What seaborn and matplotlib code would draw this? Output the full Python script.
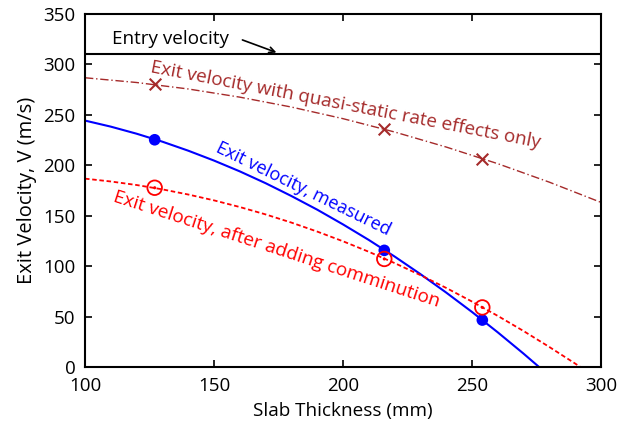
import matplotlib
import matplotlib.pyplot as plt
import seaborn as sns

matplotlib.use('Agg')

# curves (slab thickness in mm, exit velocity in m/s)
measured_x = [100, 110, 120, 130, 140, 150, 160, 170, 180, 190, 200, 210, 220, 230, 240, 250, 260, 270, 276]
measured_v = [244, 238.0, 231.0, 223.1, 214.2, 204.4, 193.7, 182.0, 169.3, 155.8, 141.2, 125.8,
              109.4, 92.0, 73.7, 54.5, 34.3, 13.2, 0]

commin_x = [100, 110, 120, 130, 140, 150, 160, 170, 180, 190, 200, 210, 220, 230, 240, 250, 260, 270, 280, 290, 292]
commin_v = [186.5, 183.7, 180.2, 175.9, 170.8, 165.0, 158.4, 151.1, 143.0, 134.1, 124.5, 114.1,
            102.9, 91.0, 78.3, 64.8, 50.6, 35.6, 19.8, 3.4, 0]

quasi_x = [100, 120, 140, 160, 180, 200, 220, 240, 260, 280, 300]
quasi_v = [286.4, 281.7, 275.3, 267.2, 257.4, 245.9, 232.7, 217.8, 201.3, 183.0, 163.0]

# test points
test_x = [127, 216, 254]
measured_pts = [225, 115.5, 46.5]
commin_pts = [177.5, 107, 59]
quasi_pts = [280, 235.5, 206]

entry_v = 310

sns.set_style('ticks')
plt.rcParams['font.family'] = ['Open Sans', 'DejaVu Sans']
plt.rcParams['text.color'] = 'black'
plt.rcParams['axes.labelcolor'] = 'black'
plt.rcParams['xtick.color'] = 'black'
plt.rcParams['ytick.color'] = 'black'

fig = plt.figure(figsize=(6.21, 4.24), dpi=100)
ax = fig.add_axes([0.1369, 0.1344, 0.8309, 0.8337])

brown = '#A52A2A'

# entry velocity
ax.axhline(entry_v, color='black', lw=1.5)

sns.lineplot(x=quasi_x, y=quasi_v, color=brown, lw=1.0, linestyle=(0, (6, 2, 1, 2)), ax=ax)
sns.lineplot(x=measured_x, y=measured_v, color='blue', lw=1.5, ax=ax)
sns.lineplot(x=commin_x, y=commin_v, color='red', lw=1.3, linestyle=(0, (2.5, 1.5)), ax=ax)

sns.scatterplot(x=test_x, y=quasi_pts, color=brown, marker='x', s=70, linewidth=1.5, ax=ax, zorder=5)
sns.scatterplot(x=test_x, y=measured_pts, color='blue', marker='o', s=70, edgecolor='none', ax=ax, zorder=5)
sns.scatterplot(x=test_x, y=commin_pts, facecolor='none', edgecolor='red', marker='o', s=110,
                linewidth=1.3, ax=ax, zorder=5)
sns.scatterplot(x=test_x, y=commin_pts, color='red', marker='o', s=5, edgecolor='none', ax=ax, zorder=5)

# labels along the curves
txt = dict(ha='left', va='baseline', rotation_mode='anchor')
ax.text(125.2, 292.1, 'Exit velocity with quasi-static rate effects only', color=brown, rotation=-11,
        fontsize=13.6, **txt)
ax.text(150.4, 213.5, 'Exit velocity, measured', color='blue', rotation=-26, fontsize=13, **txt)
ax.text(110.6, 164.5, 'Exit velocity, after adding comminution', color='red', rotation=-18,
        fontsize=13.6, **txt)

ax.text(110.3, 325, 'Entry velocity', color='black', ha='left', va='center', fontsize=13.6)
ax.annotate('', xy=(175.2, 310.5), xytext=(160, 324.8),
            arrowprops=dict(arrowstyle='->', color='black', lw=1.2))

ax.set_xlim(100, 300)
ax.set_ylim(0, 350)
ax.set_xticks([100, 150, 200, 250, 300])
ax.set_yticks([0, 50, 100, 150, 200, 250, 300, 350])
ax.tick_params(direction='in', top=True, right=True, length=5, width=1.2, labelsize=13.5, pad=7)
for s in ax.spines.values():
    s.set_linewidth(1.5)
    s.set_color('black')

ax.set_xlabel('Slab Thickness (mm)', fontsize=13.6, labelpad=5)
ax.set_ylabel('Exit Velocity, V (m/s)', fontsize=14.5, labelpad=4)

fig.savefig('out.png', dpi=100)
